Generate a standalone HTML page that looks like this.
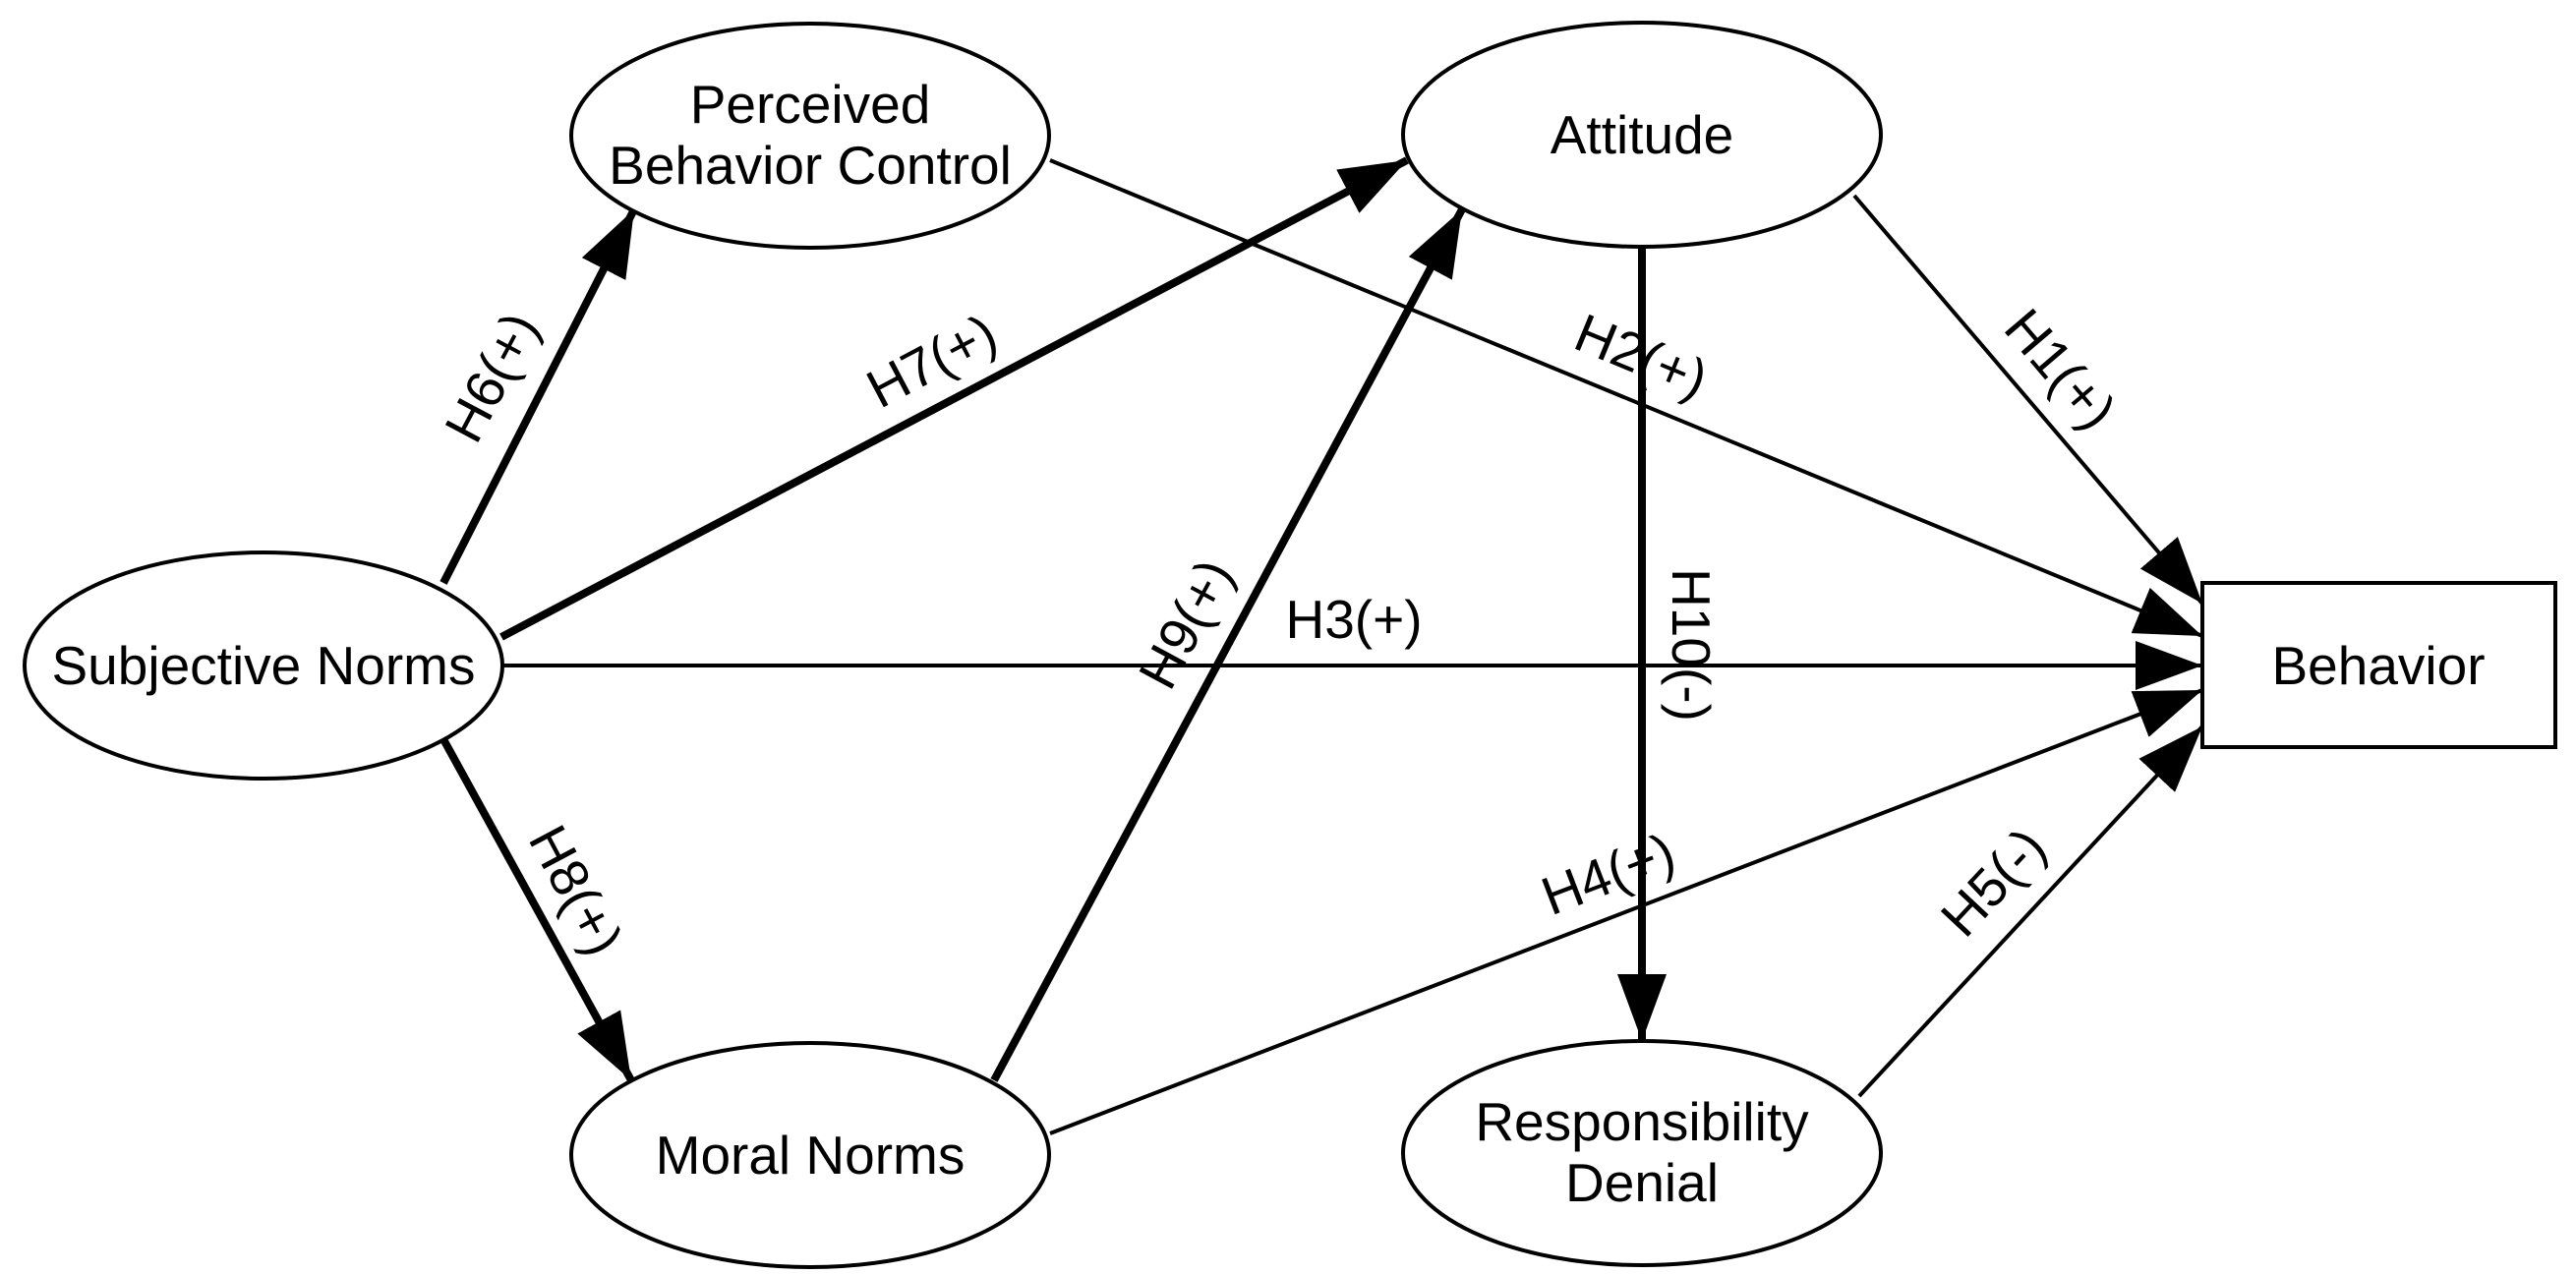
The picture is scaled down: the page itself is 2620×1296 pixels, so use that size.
<!DOCTYPE html>
<html><head><meta charset="utf-8"><style>html,body{margin:0;padding:0;background:#fff}svg{display:block}</style></head>
<body>
<svg width="2620" height="1296" viewBox="0 0 2620 1296" xmlns="http://www.w3.org/2000/svg" font-family="Liberation Sans, Arial, sans-serif" font-size="55">
<defs>
<marker id="a" markerUnits="userSpaceOnUse" markerWidth="70" markerHeight="50" refX="68" refY="25" orient="auto"><path d="M0,0 L68,25 L0,50 Z" fill="#000"/></marker>
</defs>
<g stroke="#000" fill="none">
<line x1="451" y1="593" x2="645" y2="213" stroke-width="8" marker-end="url(#a)"/>
<line x1="510" y1="648" x2="1431" y2="163" stroke-width="8" marker-end="url(#a)"/>
<line x1="512" y1="677" x2="2240" y2="677" stroke-width="4" marker-end="url(#a)"/>
<line x1="451" y1="752" x2="642" y2="1099" stroke-width="8" marker-end="url(#a)"/>
<line x1="1011" y1="1099" x2="1487" y2="213" stroke-width="8" marker-end="url(#a)"/>
<line x1="1068" y1="163" x2="2240" y2="647" stroke-width="4" marker-end="url(#a)"/>
<line x1="1886" y1="199" x2="2240" y2="614" stroke-width="4" marker-end="url(#a)"/>
<line x1="1068" y1="1153" x2="2240" y2="702" stroke-width="4" marker-end="url(#a)"/>
<line x1="1891" y1="1115" x2="2240" y2="739" stroke-width="4" marker-end="url(#a)"/>
<line x1="1670" y1="251" x2="1670" y2="1059" stroke-width="8" marker-end="url(#a)"/>
<ellipse cx="268" cy="677" rx="243" ry="115" fill="#fff" stroke-width="4"/>
<ellipse cx="824" cy="138" rx="243" ry="114" fill="#fff" stroke-width="4"/>
<ellipse cx="1670" cy="137" rx="243" ry="114" fill="#fff" stroke-width="4"/>
<ellipse cx="824" cy="1175" rx="243" ry="114" fill="#fff" stroke-width="4"/>
<ellipse cx="1670" cy="1173" rx="243" ry="114" fill="#fff" stroke-width="4"/>
<rect x="2240" y="593" width="359" height="167" fill="#fff" stroke-width="4"/>
</g>
<g fill="#000" text-anchor="middle">
<text x="268" y="696">Subjective Norms</text>
<text x="824" y="125">Perceived</text>
<text x="824" y="187">Behavior Control</text>
<text x="1670" y="156">Attitude</text>
<text x="824" y="1194">Moral Norms</text>
<text x="1670" y="1160">Responsibility</text>
<text x="1670" y="1222">Denial</text>
<text x="2419" y="696">Behavior</text>
<text transform="translate(501,384) rotate(-62)" dy="18">H6(+)</text>
<text transform="translate(948,368) rotate(-27.8)" dy="18">H7(+)</text>
<text transform="translate(585,906) rotate(62)" dy="18">H8(+)</text>
<text transform="translate(1207,635) rotate(-61.7)" dy="18">H9(+)</text>
<text x="1377" y="649">H3(+)</text>
<text transform="translate(1669,363) rotate(22.4)" dy="18">H2(+)</text>
<text transform="translate(2095,376) rotate(49.5)" dy="18">H1(+)</text>
<text transform="translate(1719,656) rotate(90)" dy="18">H10(-)</text>
<text transform="translate(1636,890) rotate(-21)" dy="18">H4(+)</text>
<text transform="translate(2028,898) rotate(-47)" dy="18">H5(-)</text>
</g>
</svg>
</body></html>
